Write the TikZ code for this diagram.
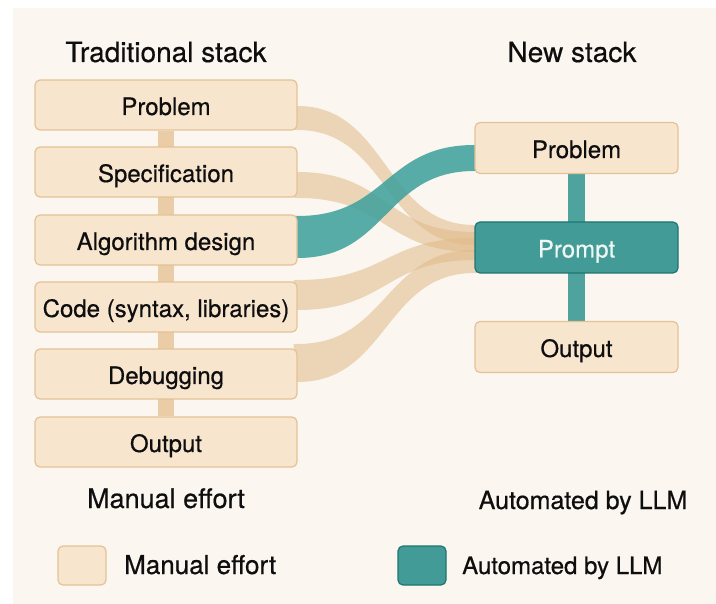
\documentclass[tikz,border=0pt]{standalone}
\usepackage{fontspec}
\setmainfont[FakeBold=0.5]{TeX Gyre Heros}
\usetikzlibrary{calc}

\definecolor{paper}{RGB}{251,247,240}
\definecolor{ink}{RGB}{14,14,14}
\definecolor{boxfill}{RGB}{247,229,206}
\definecolor{boxline}{RGB}{228,194,150}
\definecolor{flowtan}{RGB}{224,185,136}
\definecolor{stemtan}{RGB}{234,205,167}
\definecolor{tealfill}{RGB}{66,155,150}
\definecolor{tealdark}{RGB}{30,118,112}
\definecolor{tealflowc}{RGB}{60,160,155}
\definecolor{tealstem}{RGB}{78,163,158}
\definecolor{promptink}{RGB}{240,246,244}

\pgfdeclarelayer{panel}
\pgfdeclarelayer{flows}
\pgfsetlayers{panel,flows,main}

% A band leaving the right side of one box and entering the left side of another.
% #1 style, #2 source node, #3/#4 top/bottom offsets there, #5 target node, #6/#7 top/bottom offsets there
\newcommand{\flowband}[7]{%
  \fill[#1] ($(#2.east)+(-4,#3)$) -- ($(#2.east)+(0,#3)$)
    .. controls +(90,0) and +(-90,0) .. ($(#5.west)+(0,#6)$)
    -- ($(#5.west)+(4,#6)$) -- ($(#5.west)+(4,#7)$) -- ($(#5.west)+(0,#7)$)
    .. controls +(-90,0) and +(90,0) .. ($(#2.east)+(0,#4)$)
    -- ($(#2.east)+(-4,#4)$) -- cycle;}

\tikzset{
  stackbox/.style={draw=boxline, fill=boxfill, line width=1.2pt, rounded corners=5pt,
    minimum width=262pt, minimum height=50pt, inner sep=0pt,
    text height=20pt, text depth=0pt, font=\fontsize{24}{28}\selectfont, text=ink},
  newbox/.style={stackbox, minimum width=203pt, minimum height=51pt},
  promptbox/.style={newbox, draw=tealdark, fill=tealfill, text=promptink},
  headline/.style={font=\fontsize{28}{32}\selectfont, text=ink, anchor=base, inner sep=0pt},
  footlabel/.style={text=ink, anchor=base, inner sep=0pt},
  legendlabel/.style={text=ink, anchor=base west, inner sep=0pt},
  legendmanual/.style={draw=boxline, fill=boxfill, line width=1.2pt, rounded corners=5pt,
    minimum width=48pt, minimum height=39pt, inner sep=0pt},
  legendauto/.style={legendmanual, draw=tealdark, fill=tealfill},
  beigeflow/.style={fill=flowtan, fill opacity=0.55},
  tealflow/.style={fill=tealflowc, fill opacity=0.85},
  tanstem/.style={draw=stemtan, line width=16pt},
  tealstemline/.style={draw=tealstem, line width=17pt},
}

\begin{document}
\begin{tikzpicture}[x=1pt,y=-1pt]
\useasboundingbox (0,0) rectangle (716,604);
\begin{pgfonlayer}{panel}
  \fill[white] (0,0) rectangle (716,604);
  \fill[paper] (13,8) rectangle (716,604);
\end{pgfonlayer}

% column headings
\node[headline] (hleft) at (166,62) {Traditional stack};
\node[headline] (hright) at (572,62) {New stack};

% traditional stack
\node[stackbox] (lp) at (166,105) {Problem};
\node[stackbox] (ls) at (166,172) {Specification};
\node[stackbox] (la) at (166,240) {Algorithm design};
\node[stackbox] (lc) at (166,307) {Code (syntax, libraries)};
\node[stackbox] (ld) at (166,374) {Debugging};
\node[stackbox] (lo) at (166,442) {Output};

% new stack
\node[newbox] (rp) at (576.5,148) {Problem};
\node[promptbox] (pr) at (576.5,247.5) {Prompt};
\node[newbox] (ro) at (576.5,347) {Output};

% footer labels
\node[footlabel, font=\fontsize{27}{31}\selectfont] (fmanual) at (166,508) {Manual effort};
\node[footlabel, font=\fontsize{25}{29}\selectfont] (fauto) at (583,509) {Automated by LLM};

% legend
\node[legendmanual] (kmanual) at (82,565.5) {};
\node[legendlabel, font=\fontsize{26}{30}\selectfont] (kmanualtext) at (124,574) {Manual effort};
\node[legendauto] (kauto) at (422,565.5) {};
\node[legendlabel, font=\fontsize{24}{28}\selectfont] (kautotext) at (462,574) {Automated by LLM};

\begin{pgfonlayer}{flows}
  % vertical spines of both stacks
  \draw[tanstem] (lp) -- (lo);
  \draw[tealstemline] (rp) -- (ro);
  % manual steps folding into the prompt
  \flowband{beigeflow}{lp}{1}{25}{pr}{-22.5}{-2.5}
  \flowband{beigeflow}{ls}{0}{26}{pr}{-15.5}{4.5}
  \flowband{beigeflow}{lc}{-27}{3}{pr}{-9.5}{12.5}
  \flowband{beigeflow}{ld}{-30}{8}{pr}{2.5}{25.5}
  % algorithm design handed to the new problem statement
  \flowband{tealflow}{la}{-24}{18}{rp}{-3}{23}
\end{pgfonlayer}
\end{tikzpicture}
\end{document}
